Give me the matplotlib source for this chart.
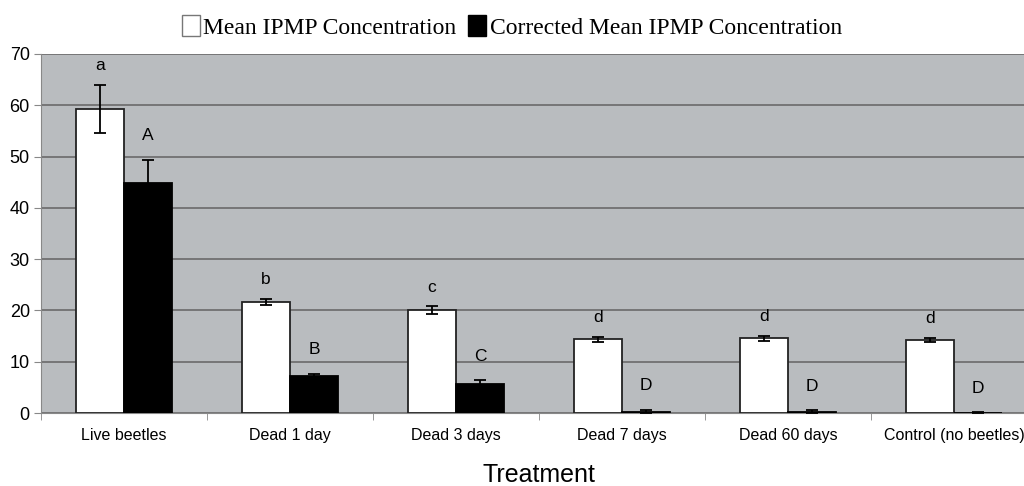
import numpy as np
import matplotlib
matplotlib.use("Agg")
import matplotlib.pyplot as plt
from matplotlib.patches import Patch

categories = ["Live beetles", "Dead 1 day", "Dead 3 days", "Dead 7 days",
              "Dead 60 days", "Control (no beetles)"]
mean_ipmp = [59.2, 21.7, 20.1, 14.4, 14.6, 14.3]
mean_err = [4.7, 0.6, 0.7, 0.5, 0.5, 0.4]
corr_ipmp = [44.8, 7.2, 5.7, 0.3, 0.2, 0.0]
corr_err = [4.6, 0.5, 0.7, 0.4, 0.4, 0.2]
mean_letters = ["a", "b", "c", "d", "d", "d"]
corr_letters = ["A", "B", "C", "D", "D", "D"]

plt.rcParams["font.family"] = ["Liberation Sans", "DejaVu Sans"]

fig = plt.figure(figsize=(10.24, 4.86), dpi=100)
ax = fig.add_axes([0.040, 0.150, 0.973, 0.739])
ax.set_facecolor("#b9bcbf")

x = np.arange(len(categories))
w = 0.29
ax.bar(x - w/2, mean_ipmp, w, color="white", edgecolor="#222222", linewidth=1.3, zorder=3)
ax.bar(x + w/2, corr_ipmp, w, color="black", edgecolor="black", linewidth=1.3, zorder=3)
ax.errorbar(x - w/2, mean_ipmp, yerr=mean_err, fmt="none", ecolor="black",
            elinewidth=1.3, capsize=4.5, capthick=1.3, zorder=4)
ax.errorbar(x + w/2, corr_ipmp, yerr=corr_err, fmt="none", ecolor="black",
            elinewidth=1.3, capsize=4.5, capthick=1.3, zorder=4)

for i in range(len(categories)):
    ax.text(x[i] - w/2, mean_ipmp[i] + mean_err[i] + 2.3, mean_letters[i],
            ha="center", va="bottom", fontsize=12.5, zorder=5)
    ax.text(x[i] + w/2, max(corr_ipmp[i] + corr_err[i], 0) + 3.2, corr_letters[i],
            ha="center", va="bottom", fontsize=12.5, zorder=5)

ax.set_ylim(0, 70)
ax.set_xlim(-0.5, 5.5)
ax.set_yticks(range(0, 71, 10))
ax.yaxis.grid(True, color="#6a6a6a", linewidth=1.2, zorder=0)
ax.set_axisbelow(True)
ax.set_xticks(x)
ax.set_xticklabels(categories, fontsize=11.5)
ax.set_xticks(np.arange(-0.5, 6, 1), minor=True)
ax.tick_params(axis="x", which="major", length=0, pad=11)
ax.tick_params(axis="x", which="minor", length=5, color="#888888")
ax.tick_params(axis="y", length=5, color="#888888", labelsize=13, pad=3)
for s in ["top", "right"]:
    ax.spines[s].set_visible(False)
ax.spines["left"].set_color("#888888")
ax.spines["bottom"].set_color("#888888")
ax.set_xlabel("Treatment", fontsize=18, labelpad=14)

handles = [Patch(facecolor="white", edgecolor="#777777", label="Mean IPMP Concentration"),
           Patch(facecolor="black", edgecolor="black", label="Corrected Mean IPMP Concentration")]
fig.legend(handles=handles, loc="upper center", bbox_to_anchor=(0.5, 1.012), ncol=2,
           frameon=False, handlelength=0.75, handleheight=0.95, handletextpad=0.15,
           columnspacing=0.5, prop={"family": "Liberation Serif", "size": 17})

fig.savefig("out.png", dpi=100)
